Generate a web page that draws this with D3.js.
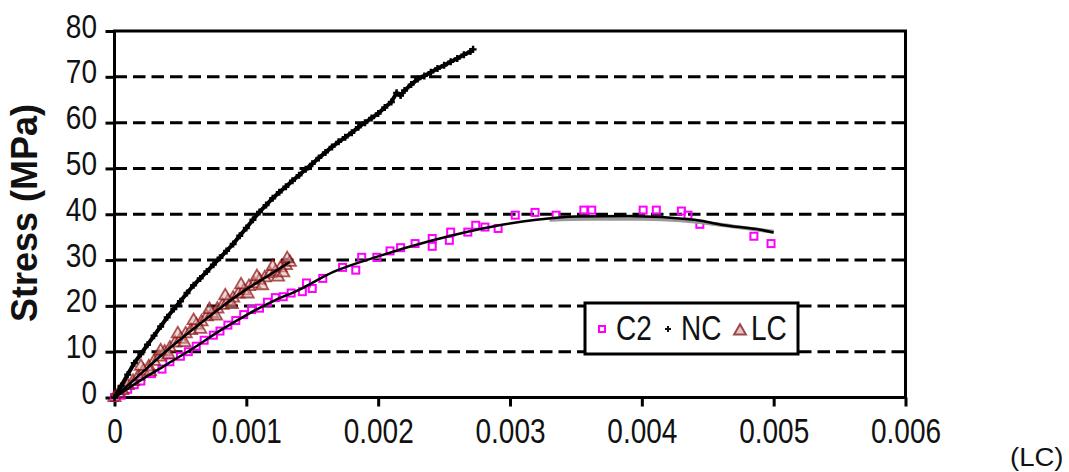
<!DOCTYPE html>
<html><head><meta charset="utf-8">
<script src="https://cdn.jsdelivr.net/npm/d3@7/dist/d3.min.js"></script>
<style>body{margin:0;background:#fff}svg{display:block}text{font-family:"Liberation Sans",Arial,sans-serif}</style>
</head><body>
<svg id="c" width="1069" height="472"></svg>
<script>
// ---- data ----
const xTicks = [0, 0.001, 0.002, 0.003, 0.004, 0.005, 0.006];
const xTickLabels = ["0", "0.001", "0.002", "0.003", "0.004", "0.005", "0.006"];
const yTicks = [0, 10, 20, 30, 40, 50, 60, 70, 80];
const yTickLabels = ["0", "10", "20", "30", "40", "50", "60", "70", "80"];
const seriesNames = ["C2", "NC", "LC"];
const yTitle = "Stress (MPa)";
const cornerNote = "(LC)";

// C2 measured points [strain, stress]
const c2Points = [[0,0],[0.00005,0.5],[0.0001,1.8],[0.00015,2.8],[0.0002,3.6],[0.00028,5.2],[0.00036,6.2],[0.00042,7.8],[0.0005,9],[0.00056,10],[0.00062,11.2],[0.00068,12.5],[0.00075,13.6],[0.0008,14.5],[0.00086,15.8],[0.00092,16.8],[0.00098,18.1],[0.00104,19.2],[0.0011,19.5],[0.00116,20.8],[0.00122,21.8],[0.00128,22],[0.00134,22.8],[0.001425,23.1],[0.001456,25.0],[0.0015,23.8],[0.00158,26],[0.00173,28.4],[0.00183,27.8],[0.001875,30.6],[0.00199,30.6],[0.00209,32],[0.00217,32.7],[0.00228,33.6],[0.00241,34.7],[0.00241,33],[0.00254,34.3],[0.00255,36.1],[0.00268,36.1],[0.00274,37.6],[0.00281,37.2],[0.00291,36.9],[0.00304,39.8],[0.00319,40.4],[0.00335,39.8],[0.00356,40.9],[0.00362,40.9],[0.00401,40.9],[0.00411,40.9],[0.0043,40.7],[0.00435,39.8],[0.00444,37.8],[0.00485,35.2],[0.00498,33.6]];
// C2 fitted curve
const c2Fit = [[0,0],[0.0002,3.8],[0.0004,7.3],[0.0006,10.8],[0.0008,14.6],[0.001,18],[0.0012,21],[0.0014,23.5],[0.00166,27.4],[0.002,30.8],[0.0024,34.2],[0.0029,37.5],[0.0032,38.8],[0.0035,39.5],[0.0039,39.6],[0.0044,38.8],[0.0046,37.7],[0.0049,36.6],[0.005,36]];
const c2FitGray = [[0.0033,38.8],[0.0036,39.0],[0.004,39.0],[0.0044,38.4],[0.0047,37.3],[0.005,36.2]];

// NC measured points
const ncPoints = [[0,0],[0.00005,2.5],[0.0001,5],[0.00015,7.5],[0.0002,9.5],[0.00025,11.5],[0.0003,13.5],[0.00035,15.5],[0.0004,17.5],[0.00045,19.3],[0.0005,21],[0.00055,22.8],[0.0006,24.5],[0.00065,26],[0.0007,27.5],[0.00075,29],[0.0008,30.5],[0.00085,32],[0.0009,33.5],[0.00095,35.3],[0.001,37],[0.00105,38.8],[0.0011,40.5],[0.00115,42],[0.0012,43.5],[0.00125,44.8],[0.0013,46],[0.00135,47.3],[0.0014,48.5],[0.00145,49.8],[0.0015,51],[0.00155,52.3],[0.0016,53.5],[0.00165,54.7],[0.0017,55.8],[0.00175,56.8],[0.0018,57.8],[0.00185,59],[0.0019,60],[0.00195,61],[0.002,62],[0.00205,63.3],[0.0021,64.5],[0.00214,66.5],[0.00217,65.9],[0.0022,67],[0.00225,68.3],[0.0023,69.5],[0.00235,70.2],[0.0024,71],[0.00245,71.8],[0.0025,72.5],[0.00255,73.3],[0.0026,74],[0.00265,74.8],[0.0027,75.5],[0.00272,76]];

// LC measured points (band of scattered readings)
const lcPoints = [[0,0],[0.00003,0.8],[0.00006,1.5],[0.0001,2.6],[0.00014,3.5],[0.00018,4.6],[0.00022,5.8],[0.00026,6.7],[0.0003,7.9],[0.00034,8.8],[0.00038,9.9],[0.00042,10.8],[0.00046,11.9],[0.0005,12.7],[0.00054,13.9],[0.00058,14.6],[0.00062,15.8],[0.00066,16.5],[0.0007,17.6],[0.00074,18.3],[0.00078,19.3],[0.00082,20.1],[0.00086,21],[0.0009,21.7],[0.00094,22.6],[0.00098,23.3],[0.00102,24.2],[0.00106,24.8],[0.0011,25.6],[0.00114,26.1],[0.00118,27],[0.00122,27.4],[0.00126,28.3],[0.0013,28.8],[0.00133,29.5],
  [0.0002,6.8],[0.00027,5.6],[0.00035,10.2],[0.00041,9.3],[0.00048,13.9],[0.00053,12.0],[0.0006,16.8],[0.00065,14.9],[0.00072,19.2],[0.00077,17.8],[0.00084,22.2],[0.00089,20.3],[0.00096,24.6],[0.00101,22.6],[0.00108,26.4],[0.00112,24.4],[0.0012,28.6],[0.00124,26.3],[0.00131,30.3],[0.00128,27.2]];
const lcFit = [[0,0],[0.0002,5.2],[0.0004,10.3],[0.0006,15],[0.0008,19.5],[0.001,23.6],[0.0012,27.2],[0.00133,29.6]];

// ---- drawing ----
const svg = d3.select("#c");
const x = d3.scaleLinear().domain([0, 0.006]).range([114.5, 905.5]);
const y = d3.scaleLinear().domain([0, 80]).range([397.5, 31]);
const BLK = "#000";

// grid
svg.append("g").selectAll("line").data(yTicks.filter(v => v > 0 && v < 80)).join("line")
  .attr("x1", x(0)).attr("x2", x(0.006)).attr("y1", d => y(d)).attr("y2", d => y(d))
  .attr("stroke", BLK).attr("stroke-width", 3).attr("stroke-dasharray", "12.5,6");

// frame
svg.append("rect").attr("x", x(0)).attr("y", y(80)).attr("width", x(0.006) - x(0)).attr("height", y(0) - y(80))
  .attr("fill", "none").attr("stroke", BLK).attr("stroke-width", 3);

// axes
const yAxis = svg.append("g").attr("transform", `translate(${x(0)},0)`)
  .call(d3.axisLeft(y).tickValues(yTicks).tickSize(9).tickFormat((d, i) => yTickLabels[i]));
const xAxis = svg.append("g").attr("transform", `translate(0,${y(0)})`)
  .call(d3.axisBottom(x).tickValues(xTicks).tickSize(9).tickFormat((d, i) => xTickLabels[i]));
[yAxis, xAxis].forEach(a => {
  a.select(".domain").remove();
  a.selectAll(".tick line").attr("stroke", BLK).attr("stroke-width", 3);
});
yAxis.selectAll(".tick text").attr("x", -17.5).attr("y", 5.2).attr("dy", null)
  .attr("transform", "scale(1,1.17)").attr("font-size", 28).attr("fill", "#111").attr("text-anchor", "end");
xAxis.selectAll(".tick text").attr("y", 37).attr("dy", null)
  .attr("transform", "scale(1,1.23)").attr("font-size", 28).attr("fill", "#111");

// y title
svg.append("text").attr("transform", "translate(37,213) rotate(-90)")
  .attr("text-anchor", "middle").attr("font-size", 36).attr("font-weight", "bold").attr("fill", "#111").text(yTitle);

// corner note
svg.append("text").attr("transform", "translate(1010,466) scale(1.1,1.05)")
  .style("font-size", "25px").attr("fill", "#111").text(cornerNote);

const line = d3.line().x(d => x(d[0])).y(d => y(d[1]));
const smooth = d3.line().x(d => x(d[0])).y(d => y(d[1])).curve(d3.curveMonotoneX);

// C2 markers
svg.append("g").selectAll("rect").data(c2Points).join("rect")
  .attr("x", d => x(d[0]) - 3.5).attr("y", d => y(d[1]) - 3.5).attr("width", 7).attr("height", 7)
  .attr("fill", "none").attr("stroke", "#ff00ff").attr("stroke-width", 2);
// LC markers
const tri = d3.symbol().type(d3.symbolTriangle).size(65);
svg.append("g").selectAll("path").data(lcPoints).join("path")
  .attr("d", tri).attr("transform", d => `translate(${x(d[0])},${y(d[1])})`)
  .attr("fill", "#d9b0b0").attr("fill-opacity", 0.5).attr("stroke", "#8b1010").attr("stroke-width", 1.8).attr("stroke-opacity", 0.7);
// NC markers
svg.append("g").selectAll("path").data(ncPoints).join("path")
  .attr("d", d => `M${x(d[0]) - 3.5},${y(d[1])}h7M${x(d[0])},${y(d[1]) - 3.5}v7`)
  .attr("stroke", BLK).attr("stroke-width", 2.4);

// fit lines
svg.append("path").datum(c2FitGray).attr("d", smooth).attr("fill", "none").attr("stroke", "#999").attr("stroke-width", 4);
svg.append("path").datum(c2Fit).attr("d", smooth).attr("fill", "none").attr("stroke", BLK).attr("stroke-width", 2.5);
svg.append("path").datum(lcFit).attr("d", smooth).attr("fill", "none").attr("stroke", BLK).attr("stroke-width", 2.5);
svg.append("path").datum(ncPoints).attr("d", line).attr("fill", "none").attr("stroke", BLK).attr("stroke-width", 4);

// legend
const lg = svg.append("g");
lg.append("rect").attr("x", 585).attr("y", 303).attr("width", 213).attr("height", 51)
  .attr("fill", "#fff").attr("stroke", BLK).attr("stroke-width", 3);
lg.append("rect").attr("x", 599).attr("y", 326).attr("width", 6).attr("height", 6)
  .attr("fill", "none").attr("stroke", "#ff00ff").attr("stroke-width", 2);
lg.append("path").attr("d", "M665,329h6M668,326v6").attr("stroke", "#111").attr("stroke-width", 2);
lg.append("path").attr("d", d3.symbol().type(d3.symbolTriangle).size(60)).attr("transform", "translate(740,331)")
  .attr("fill", "#e0c8c8").attr("stroke", "#9b4a4a").attr("stroke-width", 2);
const legX = [616, 681, 751];
seriesNames.forEach((n, i) => {
  lg.append("text").attr("transform", `translate(${legX[i]},340) scale(1,1.23)`)
    .attr("font-size", 28).attr("fill", "#111").text(n);
});
</script>
</body></html>
